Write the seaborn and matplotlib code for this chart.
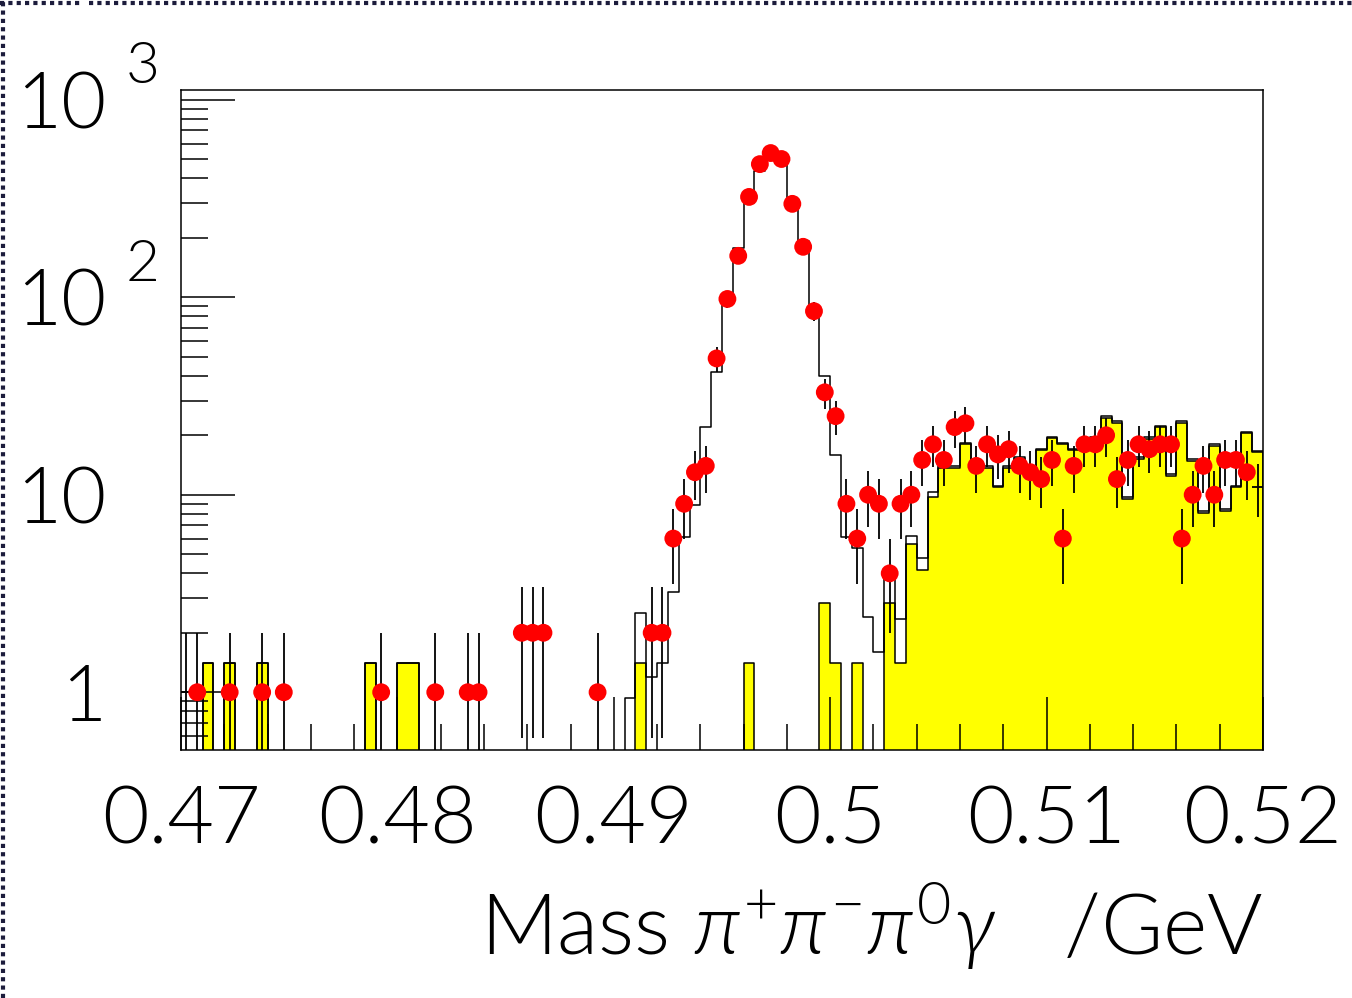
import numpy as np
import seaborn as sns
import matplotlib.pyplot as plt
from matplotlib.lines import Line2D
from matplotlib.ticker import FixedLocator, MultipleLocator, LogLocator, NullFormatter

# 100 bins of 0.5 MeV between 0.47 and 0.52 GeV
mass_lo, mass_hi, n_bins = 0.47, 0.52, 100
edges = np.linspace(mass_lo, mass_hi, n_bins + 1)
centers = 0.5 * (edges[:-1] + edges[1:])

# observed events per bin (red points)
data_counts = [
    1, 1, 0, 0, 1, 0, 0, 1, 0, 1,
    0, 0, 0, 0, 0, 0, 0, 0, 1, 0,
    0, 0, 0, 1, 0, 0, 1, 1, 0, 0,
    0, 2, 2, 2, 0, 0, 0, 0, 1, 0,
    0, 0, 0, 2, 2, 6, 9, 13, 14, 49,
    98, 162, 322, 472, 537, 501, 297, 180, 85, 33,
    25, 9, 6, 10, 9, 4, 9, 10, 15, 18,
    15, 22, 23, 14, 18, 16, 17, 14, 13, 12,
    15, 6, 14, 18, 18, 20, 12, 15, 18, 17,
    18, 18, 6, 10, 14, 10, 15, 15, 13, 11,
]

# background MC (yellow)
bkg_mc = [
    0, 0, 1.4, 0, 1.4, 0, 0, 1.4, 0, 0,
    0, 0, 0, 0, 0, 0, 0, 1.4, 0, 0,
    1.4, 1.4, 0, 0, 0, 0, 0, 0, 0, 0,
    0, 0, 0, 0, 0, 0, 0, 0, 0, 0,
    0, 0, 1.4, 0, 0, 0, 0, 0, 0, 0,
    0, 0, 1.4, 0, 0, 0, 0, 0, 0, 2.83,
    1.4, 0, 1.4, 0, 0, 2.83, 1.4, 5.6, 4.17, 9.7,
    13.7, 13.7, 18.0, 13.7, 13.7, 10.9, 13.7, 15.2, 13.7, 16.8,
    19.3, 18.0, 16.8, 17.6, 19.2, 24.6, 23.2, 9.5, 15.2, 19.2,
    22.0, 12.5, 23.2, 14.9, 8.1, 17.7, 8.3, 10.9, 20.5, 16.4,
]

# signal + background MC (black outline)
total_mc = [
    0, 0, 1.4, 0, 1.4, 0, 0, 1.4, 0, 0,
    0, 0, 0, 0, 0, 0, 0, 1.4, 0, 0,
    1.4, 1.4, 0, 0, 0, 0, 0, 0, 0, 0,
    0, 0, 0, 0, 0, 0, 0, 0, 0, 0,
    0, 0.93, 2.53, 1.2, 1.4, 3.2, 6.1, 8.9, 22, 42,
    100, 178, 300, 436, 510, 470, 300, 193, 85, 40,
    15.9, 6.1, 5.4, 2.4, 1.6, 3.76, 2.34, 6.2, 4.8, 10.3,
    14.0, 14.0, 18.3, 14.0, 14.0, 11.1, 14.0, 15.5, 14.0, 17.1,
    19.7, 18.3, 17.1, 18.0, 19.6, 25.1, 23.7, 9.7, 15.5, 19.6,
    22.4, 12.8, 23.7, 15.2, 8.3, 18.1, 8.5, 11.1, 20.9, 16.7,
]

x_ticks = [0.47, 0.48, 0.49, 0.50, 0.51, 0.52]
x_tick_labels = ['0.47', '0.48', '0.49', '0.5', '0.51', '0.52']
y_ticks = [1, 10, 100, 1000]
y_tick_labels = ['1', '10', '10', '10']
y_exponents = {100: '2', 1000: '3'}
x_title = r'Mass $\pi^{+}\pi^{-}\pi^{0}\gamma$   /GeV'

sns.set_theme(style='white')
plt.rcParams['font.family'] = ['Lato', 'DejaVu Sans']
plt.rcParams['font.weight'] = 300
plt.rcParams['axes.labelweight'] = 300
plt.rcParams['mathtext.fontset'] = 'custom'
plt.rcParams['mathtext.rm'] = 'Lato:weight=300'
plt.rcParams['mathtext.it'] = 'Lato:italic:weight=300'
plt.rcParams['mathtext.fallback'] = 'stixsans'
plt.rcParams['axes.linewidth'] = 1.1
for key in ['text.color', 'axes.labelcolor', 'xtick.color', 'ytick.color', 'axes.edgecolor']:
    plt.rcParams[key] = 'black'

fig, ax = plt.subplots(figsize=(13.52, 9.98), dpi=100)
fig.subplots_adjust(left=181/1352, right=1263/1352, bottom=1-750/998, top=1-90/998)

bin_list = edges.tolist()
sns.histplot(x=centers, weights=np.array(bkg_mc), bins=bin_list, element='step', fill=True,
             color='#ffff00', alpha=1, edgecolor='black', linewidth=1.1, ax=ax)
sns.histplot(x=centers, weights=np.array(total_mc), bins=bin_list, element='step', fill=False,
             color='black', linewidth=1.1, ax=ax)

counts = np.array(data_counts, dtype=float)
has = counts > 0
err_up = np.sqrt(counts[has])
err_lo = np.minimum(err_up, counts[has] - 0.3)
ax.errorbar(centers[has], counts[has], yerr=[err_lo, err_up], xerr=0.00025,
            fmt='none', ecolor='black', elinewidth=1.3, capsize=0, zorder=3)

# edge bins show only their error bars
inner = has.copy()
inner[0] = inner[-1] = False
sns.scatterplot(x=centers[inner], y=counts[inner], color='#ff0000', s=165,
                edgecolor='none', linewidth=0, zorder=4, legend=False, ax=ax)

ax.set_yscale('log')
ax.set_xlim(mass_lo, mass_hi)
ax.set_ylim(0.51, 1120)
ax.set_ylabel('')

ax.xaxis.set_major_locator(FixedLocator(x_ticks))
ax.set_xticklabels(x_tick_labels)
ax.xaxis.set_minor_locator(MultipleLocator(0.002))
ax.yaxis.set_major_locator(FixedLocator(y_ticks))
ax.set_yticklabels(y_tick_labels)
ax.yaxis.set_minor_locator(LogLocator(base=10, subs=np.arange(2, 10), numticks=20))
ax.yaxis.set_minor_formatter(NullFormatter())

ax.tick_params(axis='x', which='major', direction='in', length=38, width=1.1,
               pad=25, labelsize=58, bottom=True, top=False)
ax.tick_params(axis='x', which='minor', direction='in', length=19, width=1.1,
               bottom=True, top=False)
ax.tick_params(axis='y', which='major', direction='in', length=39, width=1.1,
               pad=54, labelsize=56, left=True, right=False)
ax.tick_params(axis='y', which='minor', direction='in', length=19.5, width=1.1,
               left=True, right=False)
ax.set_axisbelow(False)

for val, exp in y_exponents.items():
    ax.annotate(exp, xy=(0, val), xycoords=('axes fraction', 'data'),
                xytext=(-40, 23), textcoords='offset points',
                ha='left', va='center', fontsize=42)

ax.set_xlabel(x_title, fontsize=61)
ax.xaxis.label.set_ha('right')
ax.xaxis.label.set_va('baseline')
ax.xaxis.set_label_coords(1.0, (750 - 955) / 660)

# dotted window frame from the screenshot
frame_kw = dict(color='#1c1c3c', lw=3, ls=(0, (1, 1)), transform=fig.transFigure)
fig.add_artist(Line2D([0, 83/1352], [1 - 3/998] * 2, **frame_kw))
fig.add_artist(Line2D([89/1352, 1], [1 - 3/998] * 2, **frame_kw))
fig.add_artist(Line2D([3/1352] * 2, [0, 1], **frame_kw))

plt.savefig('out.png', dpi=100)
